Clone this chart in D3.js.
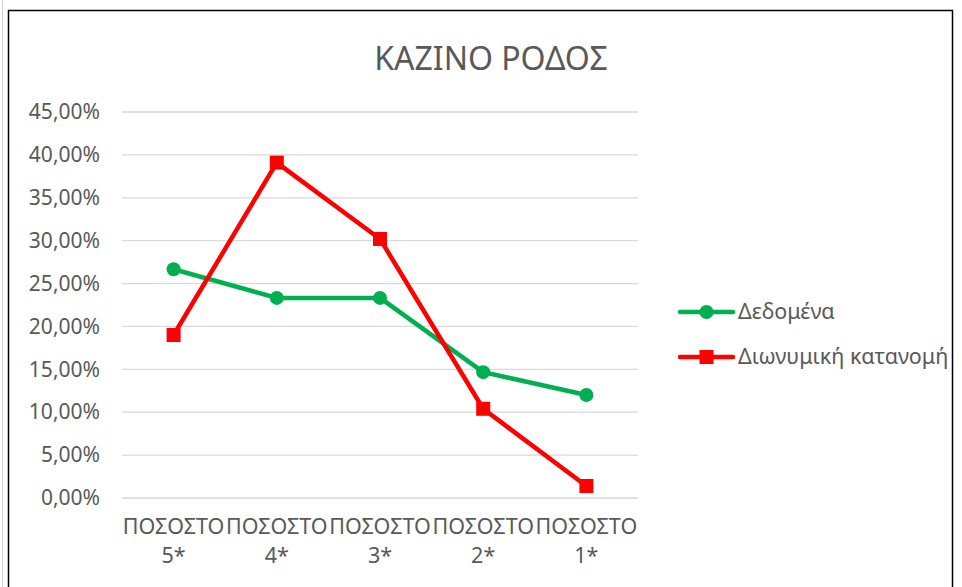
<!DOCTYPE html>
<html>
<head>
<meta charset="utf-8">
<script src="https://cdn.jsdelivr.net/npm/d3@7"></script>
<style>
  body { margin: 0; background: #fff; }
  text { font-family: "Noto Sans", "Open Sans", sans-serif; fill: #595959; }
</style>
</head>
<body>
<script>
// chart data
var categories = ["ΠΟΣΟΣΤΟ 5*", "ΠΟΣΟΣΤΟ 4*", "ΠΟΣΟΣΤΟ 3*", "ΠΟΣΟΣΤΟ 2*", "ΠΟΣΟΣΤΟ 1*"];
var dedomena = [0.2667, 0.2333, 0.2333, 0.1467, 0.1200];
var dionymiki = [0.190, 0.391, 0.302, 0.104, 0.014];
var seriesNames = ["Δεδομένα", "Διωνυμική κατανομή"];
var seriesColors = ["#00B050", "#FF0000"];
var yTicks = [0, 0.05, 0.10, 0.15, 0.20, 0.25, 0.30, 0.35, 0.40, 0.45];
var title = "ΚΑΖΙΝΟ ΡΟΔΟΣ";

var W = 962, H = 587;
var margin = {top: 112, left: 122, right: 324, bottom: 89};
var width = W - margin.left - margin.right,
    height = H - margin.top - margin.bottom;

var svg = d3.select("body").append("svg")
    .attr("width", W)
    .attr("height", H);

// outer frame
svg.append("line")
    .attr("x1", 2.5).attr("x2", 2.5).attr("y1", 0).attr("y2", H)
    .attr("stroke", "#d0d0d0").attr("stroke-width", 1);
svg.append("rect")
    .attr("x", 8.5).attr("y", 10.5)
    .attr("width", 944).attr("height", H)
    .attr("fill", "none")
    .attr("stroke", "#000")
    .attr("stroke-width", 1.5);

svg.append("text")
    .attr("x", 491)
    .attr("y", 70)
    .attr("text-anchor", "middle")
    .attr("font-size", 32)
    .text(title);

var g = svg.append("g")
    .attr("transform", "translate(" + margin.left + "," + margin.top + ")");

var x = d3.scaleBand().domain(categories).range([0, width]);
var y = d3.scaleLinear().domain([0, 0.45]).range([height, 0]);

// gridlines
g.selectAll(".grid").data(yTicks).enter().append("line")
    .attr("x1", 0).attr("x2", width)
    .attr("y1", function(d) { return y(d); })
    .attr("y2", function(d) { return y(d); })
    .attr("stroke", "#d9d9d9")
    .attr("stroke-width", 1.3);

// y axis labels
var yAxis = d3.axisLeft(y)
    .tickValues(yTicks)
    .tickSize(0)
    .tickPadding(22)
    .tickFormat(function(d) { return (d * 100).toFixed(2).replace(".", ",") + "%"; });
g.append("g").call(yAxis)
    .call(function(a) { a.select(".domain").remove(); })
    .selectAll("text")
    .attr("font-size", 21)
    .attr("font-family", "Noto Sans")
    .attr("fill", "#595959");

// x axis labels (two lines)
var xAxis = d3.axisBottom(x).tickSize(0).tickFormat("");
var xg = g.append("g").attr("transform", "translate(0," + height + ")").call(xAxis);
xg.select(".domain").remove();
xg.selectAll(".tick").each(function(d) {
    var parts = d.split(" ");
    var t = d3.select(this).append("text")
        .attr("text-anchor", "middle")
        .attr("font-size", 21.5)
        .attr("fill", "#595959");
    t.append("tspan").attr("x", 0).attr("y", 36).text(parts[0]);
    t.append("tspan").attr("x", 0).attr("y", 65).text(parts[1]);
});

var line = d3.line()
    .x(function(d, i) { return x(categories[i]) + x.bandwidth() / 2; })
    .y(function(d) { return y(d); });

var allSeries = [dedomena, dionymiki];

// series lines
allSeries.forEach(function(s, k) {
    g.append("path")
        .datum(s)
        .attr("d", line)
        .attr("fill", "none")
        .attr("stroke", seriesColors[k])
        .attr("stroke-width", 4.5)
        .attr("stroke-linejoin", "round");
});

// markers
g.selectAll(".dot").data(dedomena).enter().append("circle")
    .attr("cx", function(d, i) { return x(categories[i]) + x.bandwidth() / 2; })
    .attr("cy", function(d) { return y(d); })
    .attr("r", 7)
    .attr("fill", seriesColors[0]);

g.selectAll(".sq").data(dionymiki).enter().append("rect")
    .attr("x", function(d, i) { return x(categories[i]) + x.bandwidth() / 2 - 7; })
    .attr("y", function(d) { return y(d) - 7; })
    .attr("width", 14).attr("height", 14)
    .attr("fill", seriesColors[1]);

// legend
var legend = svg.append("g").attr("transform", "translate(680,312)");
seriesNames.forEach(function(name, k) {
    var lg = legend.append("g").attr("transform", "translate(0," + (k * 45) + ")");
    lg.append("line")
        .attr("x1", 0).attr("x2", 53)
        .attr("stroke", seriesColors[k])
        .attr("stroke-width", 4.5)
        .attr("stroke-linecap", "round");
    if (k == 0) {
        lg.append("circle").attr("cx", 26.5).attr("r", 7).attr("fill", seriesColors[k]);
    } else {
        lg.append("rect").attr("x", 19.5).attr("y", -7).attr("width", 14).attr("height", 14)
            .attr("fill", seriesColors[k]);
    }
    lg.append("text")
        .attr("x", 58)
        .attr("y", 7)
        .attr("font-size", 21.5)
        .text(name);
});
</script>
</body>
</html>
